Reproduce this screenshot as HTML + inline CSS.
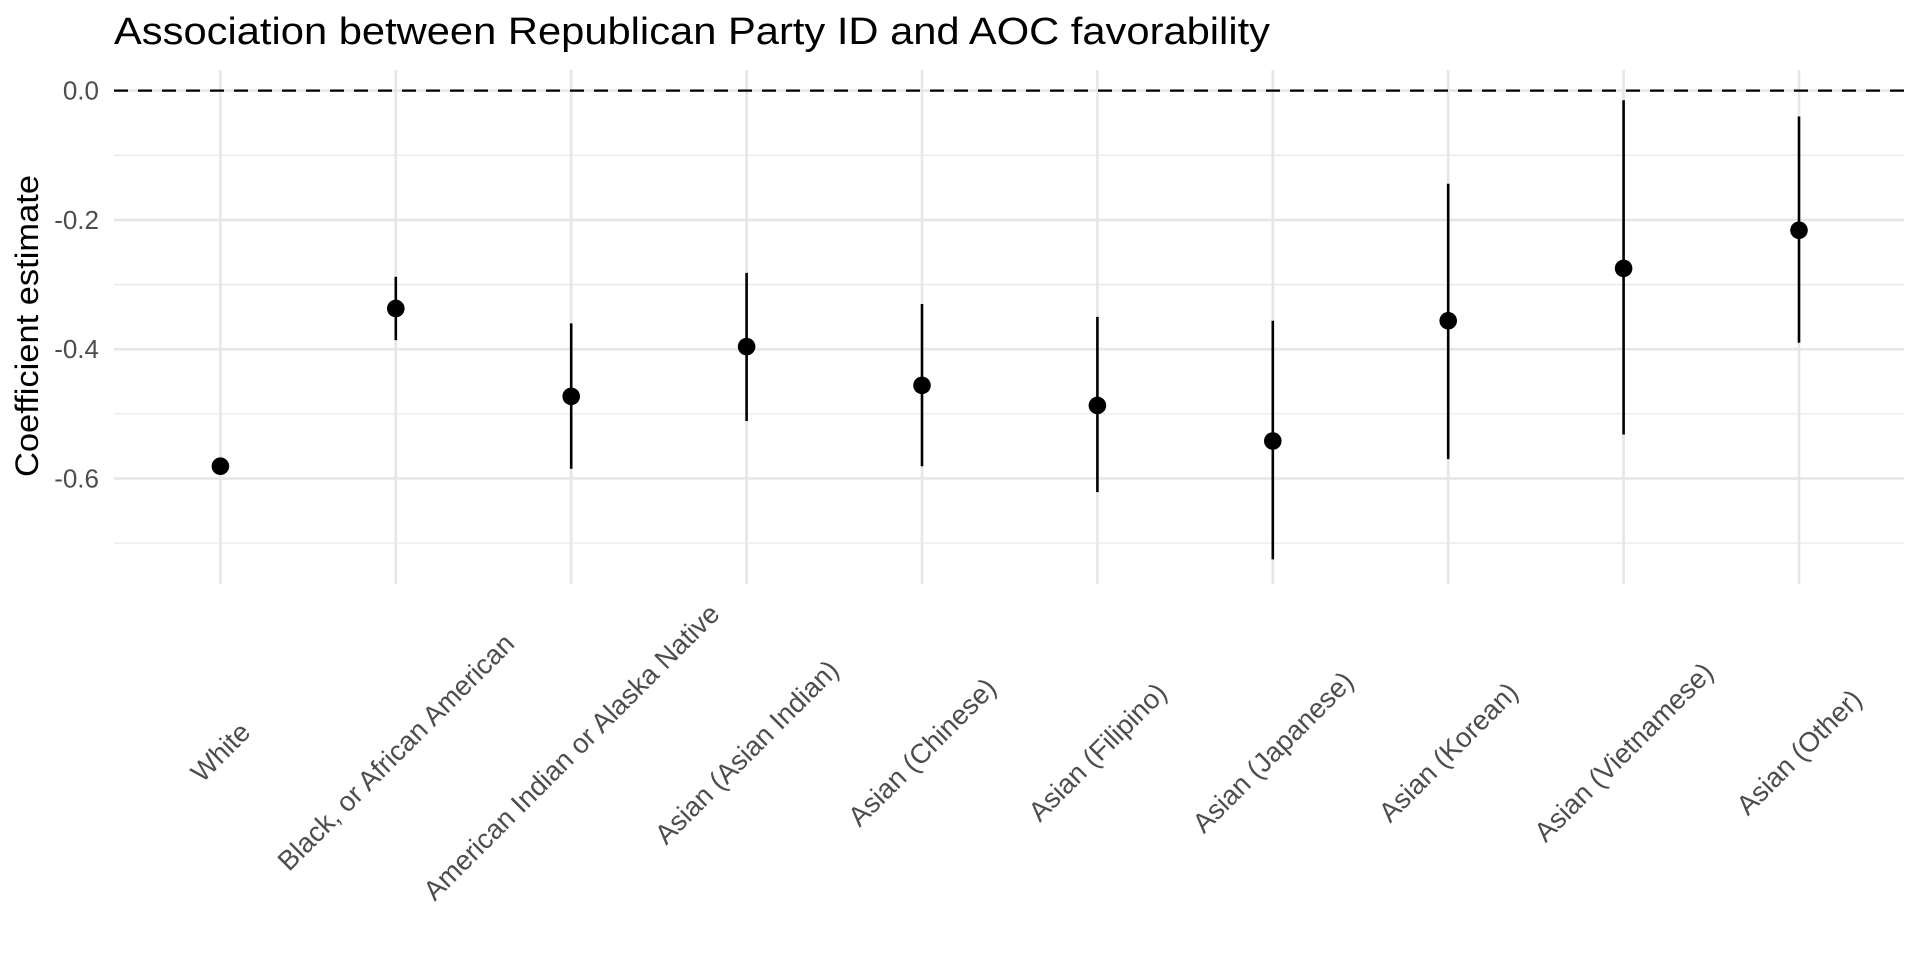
<!DOCTYPE html>
<html><head><meta charset="utf-8"><style>
html,body{margin:0;padding:0;background:#fff;}
svg{display:block;font-family:"Liberation Sans",Arial,sans-serif;}
</style></head><body>
<svg id="chart" width="1920" height="960" viewBox="0 0 1920 960">
<text x="114" y="44" font-size="38" fill="#000" textLength="1156" lengthAdjust="spacingAndGlyphs">Association between Republican Party ID and AOC favorability</text>
<text transform="translate(38,326) rotate(-90)" text-anchor="middle" font-size="32" fill="#000" textLength="302" lengthAdjust="spacingAndGlyphs">Coefficient estimate</text>
<g id="grid"></g><g id="yticks"></g><g id="xticks"></g><g id="marks"></g>
</svg>
<script>
const categories = ["White","Black, or African American","American Indian or Alaska Native","Asian (Asian Indian)","Asian (Chinese)","Asian (Filipino)","Asian (Japanese)","Asian (Korean)","Asian (Vietnamese)","Asian (Other)"];
const estimates = [-0.581,-0.337,-0.473,-0.396,-0.456,-0.487,-0.542,-0.356,-0.275,-0.216];
const lowers = [-0.586,-0.386,-0.585,-0.511,-0.581,-0.621,-0.725,-0.570,-0.532,-0.390];
const uppers = [-0.576,-0.288,-0.360,-0.282,-0.330,-0.350,-0.356,-0.144,-0.015,-0.040];
const majorTicks = [0,-0.2,-0.4,-0.6];
const tickLabels = ["0.0","-0.2","-0.4","-0.6"];
const minorTicks = [-0.1,-0.3,-0.5,-0.7];

const NS="http://www.w3.org/2000/svg";
const X0=114, X1=1904, YTOP=70, YBOT=584;
function xScale(i){return 220.4 + i*175.4;}
function yScale(v){return 90.6 - v*646.5;}
function mk(tag,attrs,parent){const e=document.createElementNS(NS,tag);for(const k in attrs)e.setAttribute(k,attrs[k]);parent.appendChild(e);return e;}
const grid=document.getElementById('grid'),yt=document.getElementById('yticks'),xt=document.getElementById('xticks'),marks=document.getElementById('marks');

minorTicks.forEach(v=>{
  const l=mk('line',{x1:X0,x2:X1,y1:yScale(v),y2:yScale(v),stroke:'#e8e8e8','stroke-width':1.3},grid);
  
  
});
majorTicks.forEach((v,i)=>{
  const l=mk('line',{x1:X0,x2:X1,y1:yScale(v),y2:yScale(v),stroke:'#e6e6e6','stroke-width':2.6},grid);
  
  
  const t=mk('text',{x:99,y:yScale(v),'text-anchor':'end','dominant-baseline':'central','font-size':26,fill:'#4d4d4d'},yt);
  t.textContent=tickLabels[i];
  
  
});
categories.forEach((c,i)=>{
  const x=xScale(i);
  const l=mk('line',{x1:x,x2:x,y1:YTOP,y2:YBOT,stroke:'#e6e6e6','stroke-width':2.6},grid);
  
  
  const t=mk('text',{transform:`translate(${x},752) rotate(-45)`,'text-anchor':'middle','dominant-baseline':'central','font-size':27.5,fill:'#4d4d4d'},xt);
  t.textContent=c;
  
  
});
const z=mk('line',{x1:X0,x2:X1,y1:yScale(0),y2:yScale(0),stroke:'#000','stroke-width':2.2,'stroke-dasharray':'14 10'},marks);


categories.forEach((c,i)=>{
  const x=xScale(i);
  const e=mk('line',{x1:x,x2:x,y1:yScale(lowers[i]),y2:yScale(uppers[i]),stroke:'#000','stroke-width':2.6},marks);
  
  
  const p=mk('circle',{cx:x,cy:yScale(estimates[i]),r:8.8,fill:'#000'},marks);
  
  
});
</script>
</body></html>
